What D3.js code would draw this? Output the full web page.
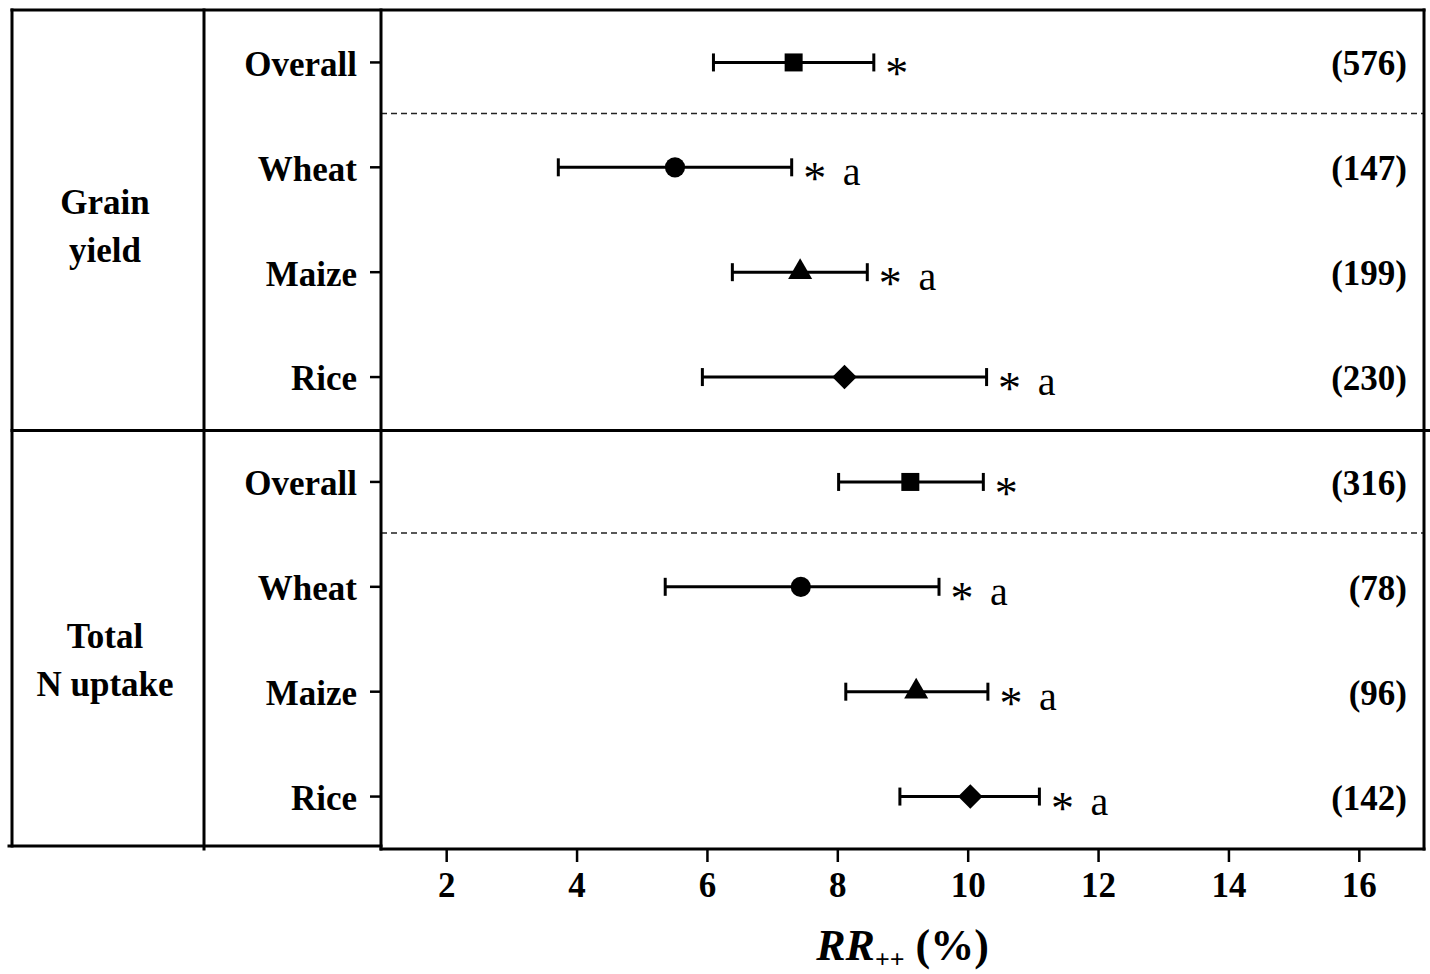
<!DOCTYPE html>
<html>
<head>
<meta charset="utf-8">
<script src="https://cdn.jsdelivr.net/npm/d3@7"></script>
<style>
  body { margin: 0; background: #fff; }
  svg { display: block; font-family: "Liberation Serif", "Times New Roman", serif; }
</style>
</head>
<body>
<div id="chart"></div>
<script>
// data
const groups = ["Grain yield", "Total N uptake"];
const groupLines = [["Grain", "yield"], ["Total", "N uptake"]];
const crops = ["Overall", "Wheat", "Maize", "Rice"];
const means = [[7.33, 5.51, 7.43, 8.11], [9.12, 7.44, 9.21, 10.04]];
const lower = [[6.10, 3.72, 6.39, 5.93], [8.02, 5.36, 8.13, 8.96]];
const upper = [[8.56, 7.30, 8.46, 10.29], [10.24, 9.56, 10.31, 11.10]];
const counts = [[576, 147, 199, 230], [316, 78, 96, 142]];
const stars = [["*", "*", "*", "*"], ["*", "*", "*", "*"]];
const letters = [["", "a", "a", "a"], ["", "a", "a", "a"]];
const xTicks = [2, 4, 6, 8, 10, 12, 14, 16];

const W = 1430, H = 974;
const plotL = 381, plotR = 1424, plotT = 10, plotB = 849;
const tableL = 12, colLine = 204;
const labelShift = [-6, 9]; // group label nudges, px

const svg = d3.select("#chart").append("svg")
  .attr("width", W).attr("height", H);

const x = d3.scaleLinear().domain([1, 17]).range([plotL, plotR]);
const panel = d3.scaleBand().domain(groups).range([plotT, plotB]);
const inner = d3.scaleBand().domain(crops).range([0, panel.bandwidth()]);

// flatten rows
const rows = [];
groups.forEach((g, gi) => {
  crops.forEach((c, ci) => {
    rows.push({
      g, c, gi, ci,
      m: means[gi][ci], lo: lower[gi][ci], hi: upper[gi][ci],
      n: counts[gi][ci], star: stars[gi][ci], letter: letters[gi][ci],
      y: panel(g) + inner(c) + inner.bandwidth() / 2
    });
  });
});

// dashed separators between Overall and crops
svg.selectAll("line.sep").data(groups).join("line")
  .attr("class", "sep")
  .attr("x1", plotL).attr("x2", plotR)
  .attr("y1", g => panel(g) + inner("Wheat") - 1.5)
  .attr("y2", g => panel(g) + inner("Wheat") - 1.5)
  .attr("stroke", "#222").attr("stroke-width", 1.5)
  .attr("stroke-dasharray", "6,4");

// error bars
const bars = svg.append("g").selectAll("g").data(rows).join("g");
bars.append("line")
  .attr("x1", d => x(d.lo)).attr("x2", d => x(d.hi))
  .attr("y1", d => d.y).attr("y2", d => d.y)
  .attr("stroke", "#000").attr("stroke-width", 3);
["lo", "hi"].forEach(k => {
  bars.append("line")
    .attr("x1", d => x(d[k])).attr("x2", d => x(d[k]))
    .attr("y1", d => d.y - 9).attr("y2", d => d.y + 9)
    .attr("stroke", "#000").attr("stroke-width", 3);
});

const symbolFor = {
  Overall: { type: d3.symbolSquare, size: 324, rot: 0 },
  Wheat: { type: d3.symbolCircle, size: 320, rot: 0 },
  Maize: { type: d3.symbolTriangle, size: 250, rot: 0 },
  Rice: { type: d3.symbolSquare, size: 300, rot: 45 }
};
bars.append("path")
  .attr("d", d => d3.symbol().type(symbolFor[d.c].type).size(symbolFor[d.c].size)())
  .attr("transform", d => `translate(${x(d.m)},${d.y}) rotate(${symbolFor[d.c].rot})`)
  .attr("fill", "#000");

// significance marks
bars.append("text")
  .attr("x", d => x(d.hi) + 23).attr("y", d => d.y + 27)
  .attr("text-anchor", "middle")
  .style("font-size", "46px")
  .text(d => d.star);
bars.append("text")
  .attr("x", d => x(d.hi) + 60).attr("y", d => d.y + 18)
  .attr("text-anchor", "middle")
  .style("font-size", "40px")
  .text(d => d.letter);

// sample sizes
bars.append("text")
  .attr("x", 1407).attr("y", d => d.y + 13)
  .attr("text-anchor", "end")
  .style("font-size", "35px").style("font-weight", "bold")
  .text(d => `(${d.n})`);

// y axes (one per panel)
groups.forEach(g => {
  const ax = svg.append("g")
    .attr("transform", `translate(${plotL},${panel(g)})`)
    .call(d3.axisLeft(inner).tickSize(11).tickPadding(13));
  ax.select(".domain").remove();
  ax.selectAll(".tick line").attr("stroke", "#000").attr("stroke-width", 2.5);
  ax.selectAll(".tick text")
    .style("font-family", "Liberation Serif, serif")
    .style("font-size", "35px").style("font-weight", "bold")
    .attr("fill", "#000").attr("dy", "0.38em");
});

// x axis
const xAx = svg.append("g")
  .attr("transform", `translate(0,${plotB})`)
  .call(d3.axisBottom(x).tickValues(xTicks).tickSize(13).tickPadding(10));
xAx.select(".domain").remove();
xAx.selectAll(".tick line").attr("stroke", "#000").attr("stroke-width", 2.5);
xAx.selectAll(".tick text")
  .style("font-family", "Liberation Serif, serif")
  .style("font-size", "35px").style("font-weight", "bold")
  .attr("fill", "#000");

// table and plot frame
const frame = svg.append("g").attr("stroke", "#000").attr("stroke-width", 3)
  .attr("stroke-linecap", "square");
frame.append("line").attr("x1", tableL).attr("x2", plotR).attr("y1", plotT).attr("y2", plotT);
frame.append("line").attr("x1", tableL).attr("x2", tableL).attr("y1", plotT).attr("y2", plotB - 3);
frame.append("line").attr("x1", colLine).attr("x2", colLine).attr("y1", plotT).attr("y2", plotB);
frame.append("line").attr("x1", plotL).attr("x2", plotL).attr("y1", plotT).attr("y2", plotB);
frame.append("line").attr("x1", plotR).attr("x2", plotR).attr("y1", plotT).attr("y2", plotB);
frame.append("line").attr("x1", plotL).attr("x2", plotR).attr("y1", plotB).attr("y2", plotB);
frame.append("line").attr("x1", tableL - 3).attr("x2", plotL).attr("y1", plotB - 3).attr("y2", plotB - 3);
frame.append("line").attr("x1", tableL).attr("x2", W)
  .attr("y1", panel(groups[1]) + 1).attr("y2", panel(groups[1]) + 1);

// group labels in the left column
groups.forEach((g, gi) => {
  const mid = panel(g) + panel.bandwidth() / 2 + labelShift[gi];
  const cx = (tableL + colLine) / 2 - 3;
  const t = svg.append("text")
    .attr("x", cx)
    .attr("y", mid)
    .attr("text-anchor", "middle")
    .style("font-size", "35px").style("font-weight", "bold");
  groupLines[gi].forEach((s, i) => {
    t.append("tspan")
      .attr("x", cx)
      .attr("dy", i === 0 ? 0 : 48)
      .text(s);
  });
});

// x axis title
const title = svg.append("text")
  .attr("x", (plotL + plotR) / 2).attr("y", 960)
  .attr("text-anchor", "middle")
  .style("font-size", "44px").style("font-weight", "bold");
title.append("tspan").style("font-style", "italic").text("RR");
title.append("tspan").style("font-size", "26px").attr("dy", 8).text("++");
title.append("tspan").attr("dy", -8).text(" (%)");
</script>
</body>
</html>
